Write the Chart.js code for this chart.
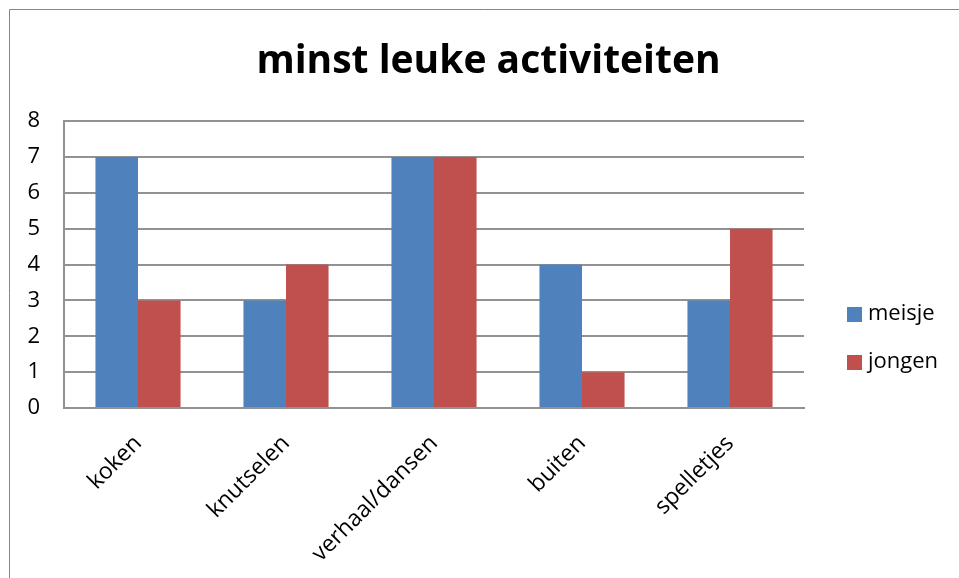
<!DOCTYPE html>
<html>
<head>
<meta charset="utf-8">
<script src="https://cdn.jsdelivr.net/npm/chart.js@4.4.1/dist/chart.umd.min.js"></script>
<style>
  html, body { margin: 0; padding: 0; background: #fff; }
  #wrap { width: 959px; height: 578px; position: relative; }
</style>
</head>
<body>
<div id="wrap"><canvas id="c" width="959" height="578"></canvas></div>
<script>
const categories = ['koken', 'knutselen', 'verhaal/dansen', 'buiten', 'spelletjes'];
const seriesNames = ['meisje', 'jongen'];
const meisje = [7, 3, 7, 4, 3];
const jongen = [3, 4, 7, 1, 5];
const yMin = 0, yMax = 8, yStep = 1;
const titleText = 'minst leuke activiteiten';

const FONT = "'Open Sans', 'Liberation Sans', sans-serif";
const GRID = '#929292';

const frame = {
  id: 'frame',
  beforeDraw(chart) {
    const ctx = chart.ctx;
    ctx.save();
    ctx.strokeStyle = '#868686';
    ctx.lineWidth = 1;
    ctx.beginPath();
    ctx.moveTo(9.5, 578);
    ctx.lineTo(9.5, 9.5);
    ctx.lineTo(959, 9.5);
    ctx.stroke();
    ctx.restore();
  }
};

const chartTitle = {
  id: 'chartTitle',
  afterDraw(chart) {
    const ctx = chart.ctx;
    ctx.save();
    ctx.font = 'bold 39px ' + FONT;
    ctx.fillStyle = '#000';
    ctx.textAlign = 'center';
    ctx.textBaseline = 'alphabetic';
    ctx.fillText(titleText, 488.5, 73);
    ctx.restore();
  }
};

const sideLegend = {
  id: 'sideLegend',
  afterDraw(chart) {
    const ctx = chart.ctx;
    ctx.save();
    ctx.font = '22px ' + FONT;
    ctx.textBaseline = 'middle';
    ctx.textAlign = 'left';
    chart.data.datasets.forEach((ds, i) => {
      const y = 307 + i * 48;
      ctx.fillStyle = ds.backgroundColor;
      ctx.fillRect(847, y, 15, 15);
      ctx.fillStyle = '#000';
      ctx.fillText(ds.label, 868, y + 7);
    });
    ctx.restore();
  }
};

new Chart(document.getElementById('c'), {
  type: 'bar',
  data: {
    labels: categories,
    datasets: [
      { label: seriesNames[0], data: meisje, backgroundColor: '#4F81BD' },
      { label: seriesNames[1], data: jongen, backgroundColor: '#C0504D' }
    ]
  },
  options: {
    responsive: false,
    animation: false,
    layout: { padding: { left: 0, right: 155, top: 121, bottom: 0 } },
    datasets: { bar: { barPercentage: 1, categoryPercentage: 0.575 } },
    plugins: {
      legend: { display: false },
      tooltip: { enabled: false },
      title: { display: false }
    },
    scales: {
      x: {
        grid: { display: false, drawTicks: false },
        border: { display: true, color: GRID, width: 2 },
        ticks: {
          color: '#000',
          font: { family: FONT, size: 23 },
          minRotation: 45, maxRotation: 45,
          padding: 22
        },
        afterFit(scale) { scale.height = 170; }
      },
      y: {
        min: yMin, max: yMax,
        grid: { color: GRID, lineWidth: 2, drawTicks: false },
        border: { display: true, color: GRID, width: 2 },
        ticks: {
          stepSize: yStep,
          color: '#000',
          font: { family: FONT, size: 22 },
          padding: 24
        },
        afterFit(scale) { scale.width = 64; }
      }
    }
  },
  plugins: [frame, chartTitle, sideLegend]
});
</script>
</body>
</html>
